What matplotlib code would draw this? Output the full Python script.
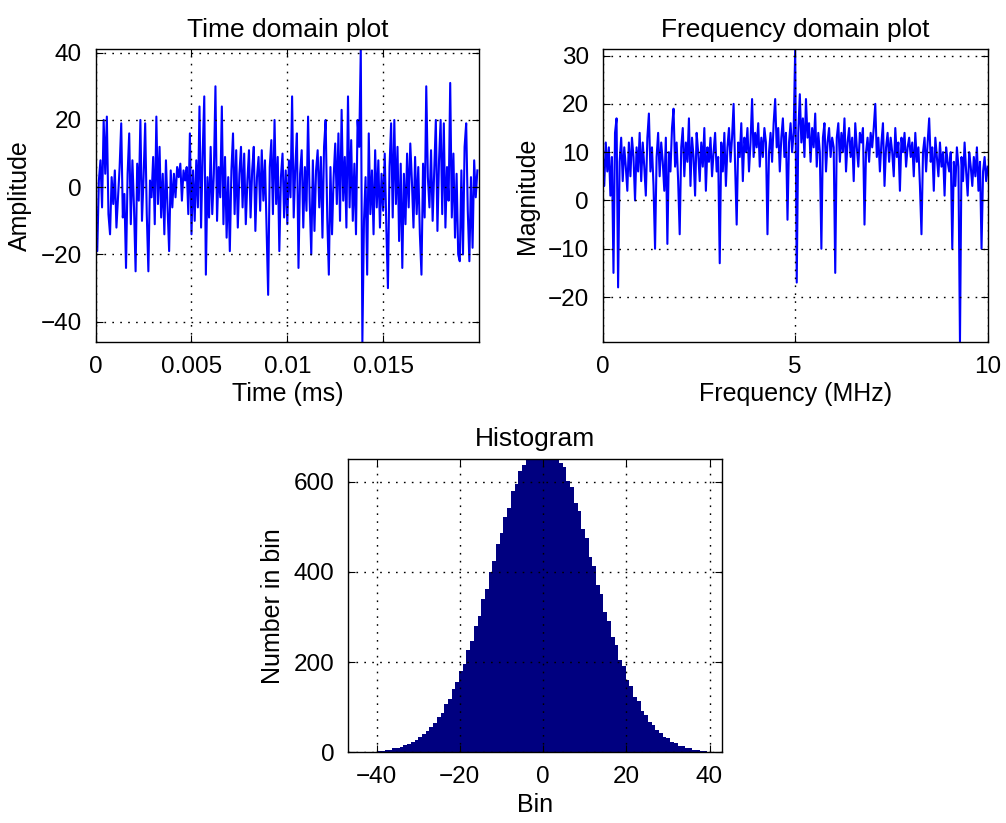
from matplotlib import pyplot as plt
import numpy as np

plt.rcParams['font.family'] = ['Liberation Sans', 'DejaVu Sans']
plt.rcParams['font.size'] = 18

#Time domain samples (12 per 0.001 ms)
amplitude = np.array([
    -3, -19, 2, 8, -6, 20, 4, 21, -8, -14, 3, -5,
    5, -12, -3, 6, 19, -9, -2, -24, 4, 16, -11, 8,
    -6, -25, 7, -4, 20, -10, 3, 19, -8, -25, 2, -3,
    9, -11, 21, -5, 12, -9, 4, -14, 8, -6, -19, 5,
    -6, 4, -3, 6, 3, 7, -4, 5, 2, 6, -8, 16,
    -14, 5, -10, 8, -6, 24, -12, 10, 27, -26, 3, -9,
    12, -8, 4, 30, -10, 6, -3, 24, -11, 9, -15, 3,
    -19, 5, 16, -8, 11, -12, 4, 12, -6, 10, -11, 2,
    11, -9, 5, 12, -13, 3, 9, -7, 11, -4, 8, -12,
    -32, 6, 14, -8, 20, -5, 9, -19, 3, 10, -9, 5,
    -11, 8, -3, 27, -9, 6, 16, -24, 4, 11, -12, 6,
    -7, 21, -4, -20, 8, -13, 5, 11, -6, 9, -15, 12,
    20, -9, -26, 6, -14, 3, 13, -5, 16, -10, 23, -4,
    9, -12, 27, -6, 14, -10, 7, -14, 20, 12, 41, -46,
    -10, 3, -26, 16, -8, 5, -14, 11, -6, 8, -12, 4,
    -7, 10, -12, -30, 6, 19, -9, 20, -5, 12, -16, 7,
    -24, 4, -11, 10, -6, 13, 2, -12, 9, -8, 6, -14,
    -26, 7, -9, 30, 3, -6, 11, -10, 5, 20, -13, 8,
    20, -8, 19, -12, 6, -4, 31, -9, 10, -15, 4, -20,
    -22, 5, -20, 12, 19, -7, -22, 3, -18, 8, -3, 5,
])
timeStep = 0.02 / len(amplitude)
timeMs = np.arange(len(amplitude)) * timeStep

#Spectrum magnitude (25 points per MHz, plus the 10 MHz end point)
magnitude = np.array([
    10, 3, 12, 6, 11, 1, 9, -15, 14, 17, -18, 8, 13, 4, 11, 7, 2, 12, 5, 13, 9, 0, 11, 6, 14,
    4, 12, 7, 1, 13, 18, 6, 11, 3, -10, 9, 14, 5, 12, 8, 2, 13, -9, 10, 6, 15, 19, 7, 12, 4,
    -7, 11, 15, 5, 12, 8, 17, 3, 13, 9, 1, 14, 10, 4, 12, 7, 15, 2, 11, 8, 13, 5, 10, 14, 6,
    9, -13, 12, 6, 14, 3, 11, 15, 8, 13, 20, 7, -5, 12, 9, 16, 4, 13, 10, 15, 6, 12, 21, 9, 14,
    11, 16, 7, 13, 9, 15, 12, -7, 10, 14, 8, 16, 21, 11, 15, 6, 13, 17, 9, 14, -4, 12, 16, 10, 14,
    31.5, -17, 14, 22, 12, 17, 9, 21, 13, 16, 8, 15, 11, 18, 7, 14, 10, -10, 13, 16, 6, 12, 15, 9, 13,
    11, -15, 13, 16, 8, 14, 10, 17, 6, 12, 15, 9, 13, 4, 16, 11, 7, 14, 12, 15, -5, 10, 13, 8, 14,
    11, 15, 20, 9, 13, 6, 12, 16, 3, 11, 14, 8, 13, 10, 5, 15, 9, 12, 2, 13, 10, 14, 7, 11, 13,
    9, 12, 5, 14, 8, 11, 3, -7, 10, 13, 6, 12, 17, 8, 11, 2, 13, 9, 5, 12, 7, 10, 1, 11, 8,
    6, 10, -10, 8, 3, 11, 7, -29.5, 9, 4, 12, 6, 1, 10, 7, 3, 9, 5, 11, 2, 8, -10, 6, 9, 4,
    7,
])
freqMHz = np.linspace(0, 10, len(magnitude))

#Histogram counts, 100 bins
binCounts = np.array([
    0, 1, 0, 1, 2, 2, 2, 4, 4, 6, 6, 9, 10, 12, 16, 18, 24, 27, 34, 41,
    47, 57, 65, 79, 88, 107, 119, 140, 155, 181, 197, 228, 247, 281, 302, 339, 362, 400, 423, 462,
    485, 522, 541, 578, 594, 624, 636, 660, 666, 684, 682, 693, 684, 688, 670, 667, 641, 633, 601, 588,
    552, 535, 494, 476, 433, 413, 371, 351, 311, 292, 255, 238, 204, 191, 160, 148, 123, 113, 92, 84,
    68, 61, 49, 43, 35, 31, 23, 21, 15, 14, 10, 9, 6, 6, 4, 3, 2, 2, 1, 1,
])
binEdges = np.linspace(-46, 43, len(binCounts) + 1)

gridStyle = dict(color = 'k', linestyle = (0, (1.2, 4.5)), linewidth = 1.0)

def styleAxis(ax):
    ax.grid(True, **gridStyle)
    ax.set_axisbelow(False)
    ax.tick_params(direction = 'in', top = True, right = True, length = 5, pad = 10,
                   labelsize = 17.5)
    for spine in ax.spines.values():
        spine.set_linewidth(1.0)

fig = plt.figure(figsize = [10.06, 8.23], dpi = 100)

#Time domain
ax1 = fig.add_axes([0.0951, 0.5845, 0.381, 0.3556])
ax1.plot(timeMs, amplitude, color = 'b', lw = 1.5)
ax1.set_xlim(0, 0.02)
ax1.set_ylim(-46, 41)
ax1.set_xticks([0, 0.005, 0.01, 0.015])
ax1.set_xticklabels(['0', '0.005', '0.01', '0.015'])
ax1.set_yticks([-40, -20, 0, 20, 40])
ax1.set_title('Time domain plot', pad = 9, fontsize = 19)
ax1.set_xlabel('Time (ms)', labelpad = 3)
ax1.set_ylabel('Amplitude', labelpad = 6)
styleAxis(ax1)

#Frequency domain
ax2 = fig.add_axes([0.5991, 0.5845, 0.3827, 0.3556])
ax2.plot(freqMHz, magnitude, color = 'b', lw = 1.5)
ax2.set_xlim(0, 10)
ax2.set_ylim(-29.3, 31.3)
ax2.set_xticks([0, 5, 10])
ax2.set_yticks([-20, -10, 0, 10, 20, 30])
ax2.set_title('Frequency domain plot', pad = 9, fontsize = 19)
ax2.set_xlabel('Frequency (MHz)', labelpad = 3)
ax2.set_ylabel('Magnitude', labelpad = 6)
styleAxis(ax2)

#Histogram
ax3 = fig.add_axes([0.3462, 0.0857, 0.3715, 0.3566])
ax3.stairs(binCounts, binEdges, fill = True, color = '#000080')
ax3.set_xlim(-46.8, 43.0)
ax3.set_ylim(0, 650)
ax3.set_xticks([-40, -20, 0, 20, 40])
ax3.set_yticks([0, 200, 400, 600])
ax3.set_title('Histogram', pad = 9, fontsize = 19)
ax3.set_xlabel('Bin', labelpad = 3)
ax3.set_ylabel('Number in bin', labelpad = 6)
styleAxis(ax3)

fig.savefig('out.png', dpi = 100)
